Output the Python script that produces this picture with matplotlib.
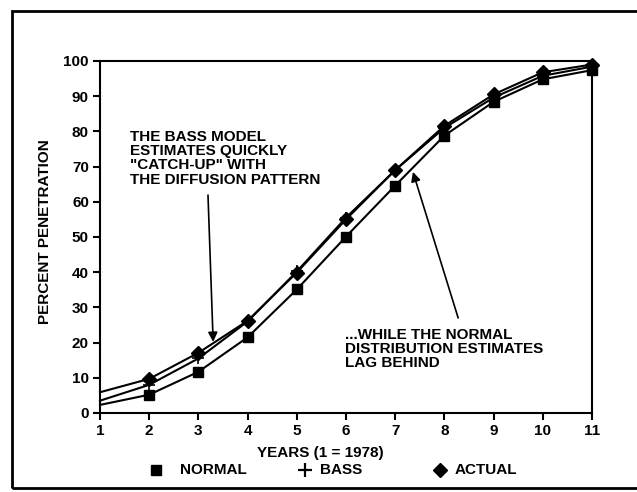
import matplotlib
matplotlib.use("Agg")
import matplotlib.pyplot as plt
from matplotlib.lines import Line2D
from matplotlib.patches import Rectangle

# data
years = [1, 2, 3, 4, 5, 6, 7, 8, 9, 10, 11]
actual = [5.9, 9.7, 17.1, 26.2, 39.9, 55.0, 69.0, 81.6, 90.5, 96.8, 99.0]
bass = [3.5, 8.0, 15.5, 26.0, 40.2, 55.5, 69.0, 81.0, 89.6, 95.8, 98.4]
normal = [2.3, 5.2, 11.7, 21.5, 35.1, 50.1, 64.6, 78.8, 88.4, 94.8, 97.4]
legend_names = ['NORMAL', 'BASS', 'ACTUAL']

plt.rcParams['font.family'] = ['Liberation Sans', 'DejaVu Sans']
plt.rcParams['font.weight'] = 'bold'

W, H = 637, 492
fig = plt.figure(figsize=(W/100, H/100), dpi=100)
ax = fig.add_axes([100/W, 1-413/H, 492/W, 352/H])

# outer box
fig.patches.append(Rectangle((12/W, 1-488/H), 640/W, 477/H, transform=fig.transFigure,
                             fill=False, lw=2, ec='black'))

ax.plot(years, normal, color='black', lw=1.5, marker='s', ms=7, markevery=slice(1, None), clip_on=False)
ax.plot(years, bass, color='black', lw=1.5, marker='+', ms=8, mew=1.2, markevery=slice(1, None), clip_on=False)
ax.plot(years, actual, color='black', lw=1.5, marker='D', ms=7, markevery=slice(1, None), clip_on=False)

ax.set_xlim(1, 11)
ax.set_ylim(0, 100)
ax.set_xticks(years)
ax.set_yticks(range(0, 101, 10))
ax.tick_params(direction='out', length=5, width=1.5, labelsize=11, pad=3)
for s in ax.spines.values():
    s.set_linewidth(1.5)

fig.text(45/W, 1-232/H, 'PERCENT PENETRATION', rotation=90, ha='center', va='center', fontsize=11)
fig.text(320/W, 1-453/H, 'YEARS (1 = 1978)', ha='center', va='center', fontsize=11)

arrow = dict(arrowstyle='-|>', color='black', lw=1.2, mutation_scale=14, shrinkA=0, shrinkB=0)
ax.text(1.61, 80.4, 'THE BASS MODEL\nESTIMATES QUICKLY\n"CATCH-UP" WITH\nTHE DIFFUSION PATTERN',
        ha='left', va='top', fontsize=11, linespacing=1.02)
ax.annotate('', xy=(3.30, 20.2), xytext=(3.195, 61.9), arrowprops=arrow)

ax.annotate('', xy=(7.36, 68.5), xytext=(8.28, 27.0), arrowprops=arrow)
ax.text(1 + 245/49.2, 85/3.52, '...WHILE THE NORMAL\nDISTRIBUTION ESTIMATES\nLAG BEHIND',
        ha='left', va='top', fontsize=11, linespacing=1.02)

# legend keys placed by hand under the axis label
keys = [dict(marker='s', ms=7), dict(marker='+', ms=10, mew=1.6), dict(marker='D', ms=7)]
key_x = [156, 305, 440]
text_x = [180, 320, 455]
ly = 1 - 470/H
for name, k, kx, tx in zip(legend_names, keys, key_x, text_x):
    fig.add_artist(Line2D([kx/W], [ly], transform=fig.transFigure, ls='none', color='black', **k))
    fig.text(tx/W, ly, name, ha='left', va='center', fontsize=11)

fig.savefig('out.png', dpi=100)
